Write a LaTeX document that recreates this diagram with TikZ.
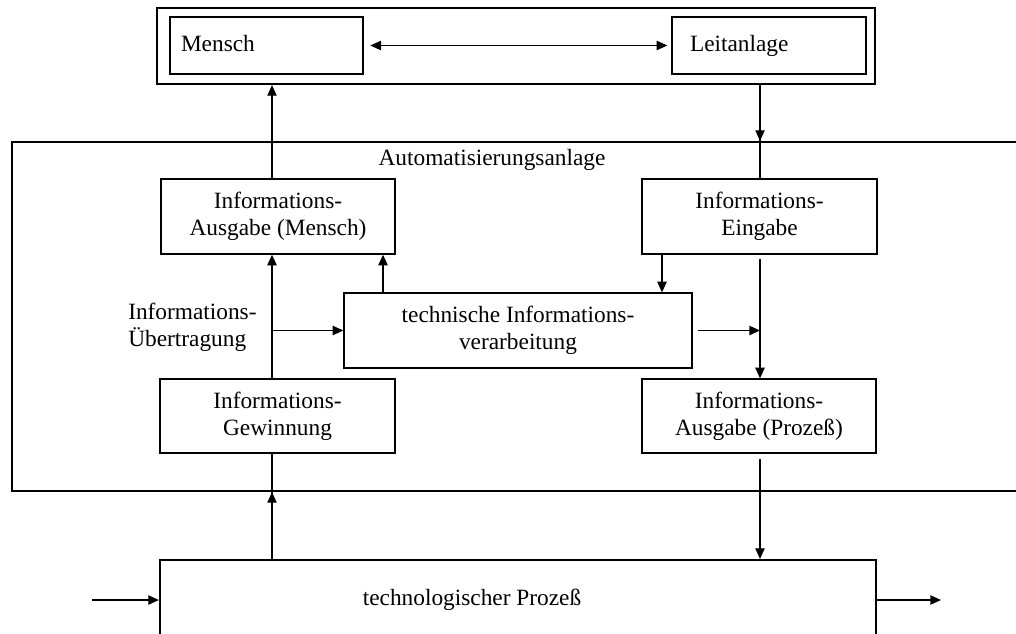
\documentclass[tikz,border=0pt]{standalone}
\usepackage{fontspec}
\setmainfont{Liberation Serif}
\usetikzlibrary{arrows.meta}
\begin{document}
\begin{tikzpicture}[x=0.75pt,y=-0.75pt,
  txt/.style={font=\fontsize{17.5}{20.5}\selectfont},
  box/.style={txt, draw, line width=1pt, rectangle, inner sep=0pt, align=center},
  frame/.style={draw, line width=1.6pt, rectangle, inner sep=0pt},
  lbl/.style={txt, inner sep=0pt},
  conn/.style={line width=1pt},
  arr/.style={conn, -{Triangle[length=8pt,width=7pt]}},
  darr/.style={conn, {Triangle[length=8pt,width=7pt]}-{Triangle[length=8pt,width=7pt]}}]
\useasboundingbox (0,0) rectangle (1016,633);
\clip (0,0) rectangle (1016,633);

% operator level
\node[frame, minimum width=538.5pt, minimum height=57pt] (hmi) at (516,46) {};
\node[box, minimum height=42.75pt, text height=12pt, text depth=3.5pt, text width=128.25pt, inner xsep=8.25pt, align=left] (mensch) at (266.5,45.5) {Mensch};
\node[box, minimum height=42.75pt, text height=12pt, text depth=3.5pt, text width=118.5pt, inner xsep=13.5pt, align=left] (leit) at (769,45.5) {Leitanlage};

% automation system
\node[frame, minimum width=771pt, minimum height=261.75pt] (auto) at (526,316.5) {};
\node[lbl] (autolbl) at (492,160) {Automatisierungsanlage};

\node[box, minimum width=175.5pt, minimum height=56.25pt] (iam) at (278,216.5) {Informations-\\Ausgabe (Mensch)};
\node[box, minimum width=176.25pt, minimum height=56.25pt] (ie) at (759.5,216.5) {Informations-\\Eingabe};
\node[box, minimum width=261pt, minimum height=56.25pt] (tech) at (518,330.5) {technische Informations-\\verarbeitung};
\node[box, minimum width=176.25pt, minimum height=55.5pt] (igw) at (277.5,416) {Informations-\\Gewinnung};
\node[box, minimum width=175.5pt, minimum height=55.5pt] (iap) at (759,416) {Informations-\\Ausgabe (Prozeß)};
\node[lbl, anchor=west, align=left] (uebertr) at (128,327) {Informations-\\Übertragung};

% process
\node[frame, minimum width=537pt, minimum height=75pt] (proc) at (518,610) {};
\node[lbl] (proclbl) at (472,600) {technologischer Prozeß};

% connector columns and free ends
\coordinate (cL) at (272,0);
\coordinate (cT) at (383,0);
\coordinate (cE) at (662,0);
\coordinate (cR) at (760,0);
\coordinate (pin) at (92,600);
\coordinate (pout) at (941,600);

% connectors
\draw[darr, shorten <=5pt, shorten >=3pt] (mensch.east) -- (leit.west);
\draw[arr] (iam.north -| cL) -- (hmi.south -| cL);
\draw[conn] (hmi.south -| cR) -- (ie.north -| cR);
\draw[arr] (hmi.south -| cR) -- (auto.north -| cR);
\draw[arr] (igw.north -| cL) -- (iam.south -| cL);
\draw[arr] (tech.west -| cL) -- (tech.west);
\draw[arr] (tech.north -| cT) -- (iam.south -| cT);
\draw[arr] (ie.south -| cE) -- (tech.north -| cE);
\draw[arr, shorten <=3pt] (ie.south -| cR) -- (iap.north -| cR);
\draw[arr, shorten <=4pt] (tech.east) -- (tech.east -| cR);
\draw[conn] (proc.north -| cL) -- (igw.south -| cL);
\draw[arr] (proc.north -| cL) -- (auto.south -| cL);
\draw[arr, shorten <=4pt] (iap.south -| cR) -- (proc.north -| cR);
\draw[arr] (pin) -- (proc.west |- pin);
\draw[arr] (proc.east |- pin) -- (pout);
\end{tikzpicture}
\end{document}
